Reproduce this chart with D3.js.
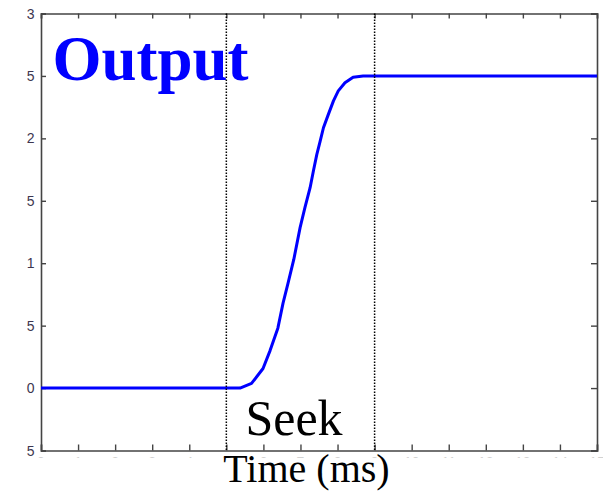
<!DOCTYPE html>
<html>
<head>
<meta charset="utf-8">
<script src="https://cdn.jsdelivr.net/npm/d3@7/dist/d3.min.js"></script>
<style>
  html, body { margin: 0; padding: 0; background: #fff; }
  svg { display: block; }
</style>
</head>
<body>
<svg id="chart" width="603" height="493"></svg>
<script>
// Step response of the head position during a seek (time in ms)
const timeMs  = [0, 5.37, 5.68, 5.99, 6.18, 6.39, 6.53, 6.66, 6.82, 6.99, 7.12, 7.26, 7.35, 7.44, 7.53, 7.62, 7.75, 7.89, 8.02, 8.20, 8.42, 8.69, 15];
const output  = [0, 0,    0.037, 0.157, 0.30, 0.48, 0.68, 0.835, 1.03, 1.285, 1.445, 1.605, 1.74, 1.87, 1.975, 2.085, 2.19, 2.30, 2.38, 2.445, 2.49, 2.50, 2.50];

// Seek interval boundaries
const seekMarks = [5, 9];

// Axis ticks; the y labels only show their last character
const xTicks = d3.range(0, 16, 1);
const yTicks = [-0.5, 0, 0.5, 1, 1.5, 2, 2.5, 3];
const yTickLabels = ["5", "0", "5", "1", "5", "2", "5", "3"];

const svg = d3.select("#chart");
const plotLeft = 41, plotRight = 597, plotTop = 13.5, plotBottom = 450.5;

const x = d3.scaleLinear().domain([0, 15]).range([plotLeft, plotRight]);
const y = d3.scaleLinear().domain([-0.5, 3]).range([plotBottom, plotTop]);

const axisColor = "#444";

// x tick labels, mostly hidden under the axis title box
svg.append("clipPath").attr("id", "xlabClip")
  .append("rect").attr("x", 0).attr("y", 456.5).attr("width", 603).attr("height", 1.3);
svg.append("g")
  .attr("clip-path", "url(#xlabClip)")
  .selectAll("text").data(xTicks).join("text")
  .attr("x", d => x(d)).attr("y", 467.2)
  .attr("text-anchor", "middle")
  .attr("font-family", "Liberation Sans, Arial, sans-serif")
  .attr("font-size", 14)
  .attr("fill", "#c4c4c4")
  .text(d => d);

// Axes box with inward ticks on all sides
const axG = svg.append("g");
axG.append("g").attr("transform", `translate(0,${plotBottom})`)
  .call(d3.axisTop(x).tickValues(xTicks).tickSize(6).tickFormat(""));
axG.append("g").attr("transform", `translate(0,${plotTop})`)
  .call(d3.axisBottom(x).tickValues(xTicks).tickSize(5).tickFormat(""));
axG.append("g").attr("transform", `translate(${plotLeft},0)`)
  .call(d3.axisRight(y).tickValues(yTicks).tickSize(5).tickFormat(""));
axG.append("g").attr("transform", `translate(${plotRight},0)`)
  .call(d3.axisLeft(y).tickValues(yTicks).tickSize(6).tickFormat(""));
axG.selectAll("path.domain").attr("stroke", axisColor).attr("stroke-width", 1.6);
axG.selectAll(".tick line").attr("stroke", axisColor).attr("stroke-width", 1.4);

// y tick labels
svg.append("g").selectAll("text").data(yTicks).join("text")
  .attr("x", 34.5).attr("y", d => y(d))
  .attr("dy", "0.36em")
  .attr("text-anchor", "end")
  .attr("font-family", "Liberation Sans, Arial, sans-serif")
  .attr("font-size", 14)
  .attr("fill", "#3d3650")
  .text((d, i) => yTickLabels[i]);

// Title
svg.append("text")
  .attr("x", 52.5).attr("y", 80)
  .attr("font-family", "Liberation Serif, Times New Roman, serif")
  .attr("font-weight", "bold")
  .attr("font-size", 63)
  .attr("fill", "#0000ff")
  .text("Output");

// Response curve
const line = d3.line().x((d, i) => x(timeMs[i])).y(d => y(d));
svg.append("path")
  .datum(output)
  .attr("d", line)
  .attr("fill", "none")
  .attr("stroke", "#0000ff")
  .attr("stroke-width", 3)
  .attr("stroke-linejoin", "round");

// Dotted seek boundaries
svg.append("g").selectAll("line").data(seekMarks).join("line")
  .attr("x1", d => x(d)).attr("x2", d => x(d))
  .attr("y1", plotTop).attr("y2", plotBottom)
  .attr("stroke", "#000")
  .attr("stroke-width", 1.5)
  .attr("stroke-dasharray", "1.5,1.5");

// Annotations
svg.append("text")
  .attr("x", 294).attr("y", 435)
  .attr("text-anchor", "middle")
  .attr("font-family", "Liberation Serif, Times New Roman, serif")
  .attr("font-size", 50)
  .attr("fill", "#000")
  .text("Seek");

svg.append("text")
  .attr("x", 306.5).attr("y", 482)
  .attr("text-anchor", "middle")
  .attr("font-family", "Liberation Serif, Times New Roman, serif")
  .attr("font-size", 40)
  .attr("fill", "#000")
  .text("Time (ms)");
</script>
</body>
</html>
